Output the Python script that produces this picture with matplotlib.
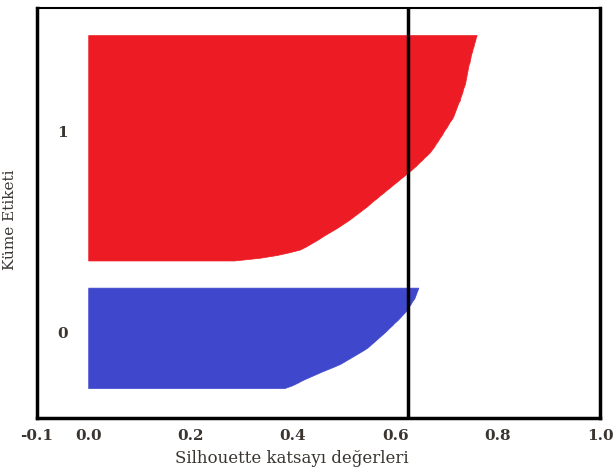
import numpy as np
import matplotlib
matplotlib.use("Agg")
import matplotlib.pyplot as plt

# Silhouette values per sample, sorted ascending
cluster_labels = ["0", "1"]
cluster_colors = ["#3F48CC", "#ED1C24"]

sil_cluster0 = [
    0.383, 0.398, 0.409, 0.419, 0.431, 0.443, 0.455, 0.468, 0.481, 0.493,
    0.502, 0.511, 0.520, 0.529, 0.538, 0.546, 0.552, 0.558, 0.564, 0.570,
    0.576, 0.582, 0.587, 0.593, 0.598, 0.604, 0.609, 0.614, 0.619, 0.623,
    0.626, 0.630, 0.633, 0.637, 0.639, 0.641, 0.643, 0.645,
]

sil_cluster1 = [
    0.285, 0.335, 0.368, 0.392, 0.413, 0.424, 0.433, 0.442, 0.451, 0.459,
    0.468, 0.477, 0.486, 0.494, 0.502, 0.510, 0.517, 0.524, 0.531, 0.538,
    0.545, 0.551, 0.557, 0.564, 0.570, 0.577, 0.583, 0.590, 0.596, 0.603,
    0.609, 0.616, 0.622, 0.629, 0.635, 0.641, 0.646, 0.652, 0.657, 0.663,
    0.668, 0.672, 0.676, 0.679, 0.683, 0.686, 0.690, 0.693, 0.696, 0.700,
    0.703, 0.706, 0.710, 0.713, 0.715, 0.717, 0.719, 0.721, 0.723, 0.726,
    0.727, 0.729, 0.731, 0.732, 0.734, 0.736, 0.737, 0.738, 0.739, 0.740,
    0.741, 0.742, 0.743, 0.745, 0.746, 0.747, 0.748, 0.750, 0.751, 0.753,
    0.754, 0.756, 0.757, 0.759,
]

silhouette_avg = 0.625
x_ticks = [-0.1, 0.0, 0.2, 0.4, 0.6, 0.8, 1.0]

font = "DejaVu Serif"
txt_color = "#3a3530"

fig = plt.figure(figsize=(6.14, 4.67), dpi=100)
ax = fig.add_axes([0.0603, 0.105, 0.917, 0.878])

# kumeler arasi bosluk
gap = 9
label_shift = {"0": 1, "1": 5}

y_lower = 11
for label, values, color in zip(cluster_labels, [sil_cluster0, sil_cluster1], cluster_colors):
    vals = np.array(values)
    size = len(vals)
    y_upper = y_lower + size
    ax.fill_betweenx(np.arange(y_lower, y_upper), 0, vals, facecolor=color,
                     edgecolor=color, linewidth=0.5)
    ax.text(-0.05, y_lower + 0.5 * size + label_shift[label], label,
            ha="center", va="center", fontsize=11, fontfamily=font,
            fontweight="bold", color=txt_color)
    y_lower = y_upper + gap

ax.axvline(x=silhouette_avg, color="black", linewidth=2.5)

ax.set_xlim(-0.1, 1.0)
ax.set_ylim(0, y_lower)
ax.set_xticks(x_ticks)
ax.set_xticklabels([f"{t:.1f}" for t in x_ticks], fontfamily=font,
                   fontweight="bold", fontsize=11, color=txt_color)
ax.set_yticks([])
ax.tick_params(axis="x", length=0, pad=8)

ax.set_xlabel("Silhouette katsayı değerleri", fontfamily=font, fontsize=12,
              color=txt_color)
ax.xaxis.set_label_coords(0.453, -0.078)
ax.set_ylabel("Küme Etiketi", fontfamily=font, fontsize=11, color=txt_color)
ax.yaxis.set_label_coords(-0.036, 0.483)

for side in ["left", "bottom", "right"]:
    ax.spines[side].set_linewidth(2.5)
ax.spines["top"].set_linewidth(1.5)

fig.savefig("out.png", dpi=100)
